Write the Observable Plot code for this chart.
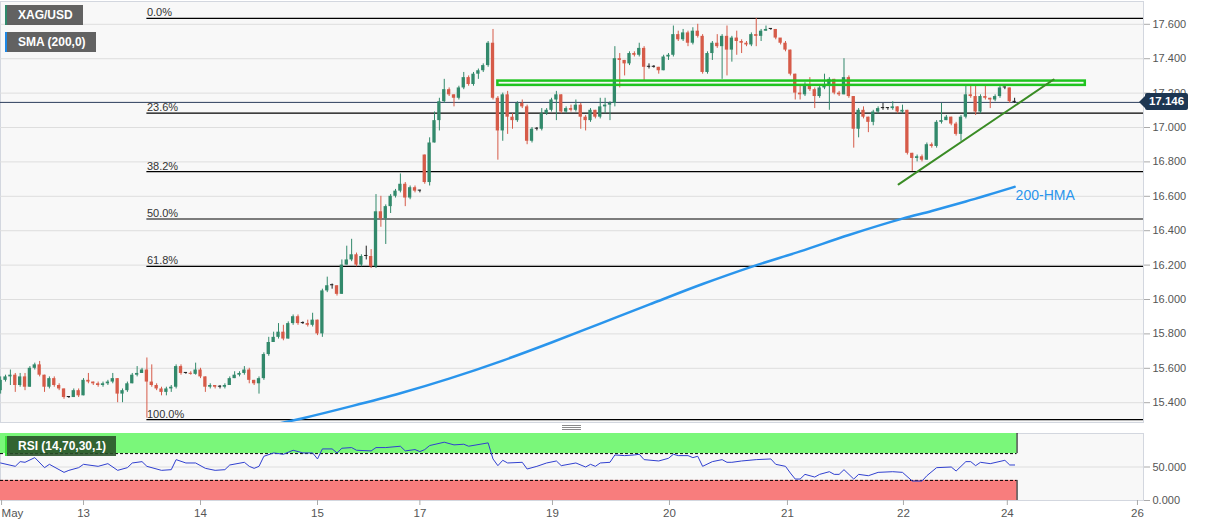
<!DOCTYPE html>
<html>
<head>
<meta charset="utf-8">
<script src="https://cdn.jsdelivr.net/npm/d3@7"></script>
<script src="https://cdn.jsdelivr.net/npm/@observablehq/plot@0.6"></script>
<style>
  html, body { margin: 0; padding: 0; background: #fff; }
  #wrap { position: relative; width: 1207px; height: 526px; overflow: hidden; font-family: "Liberation Sans", Arial, sans-serif; }
  .layer { position: absolute; left: 0; }
  .tag { position: absolute; background: rgba(85,85,85,0.92); color: #fff; font-weight: bold; font-size: 12px; line-height: 20px; height: 20px; padding: 0 10px 0 11px; box-sizing: border-box; white-space: nowrap; }
  .handle { position: absolute; left: 562px; width: 19px; height: 1px; background: #8a8a8a; }
  #price { position: absolute; left: 1145px; width: 43px; height: 17px; background: #1d3652; color: #fff; font-weight: bold; font-size: 11.5px; line-height: 17px; text-align: center; border-radius: 2px; }
  #price:before { content: ""; position: absolute; left: -6px; top: 2.5px; border-top: 6px solid transparent; border-bottom: 6px solid transparent; border-right: 6px solid #1d3652; }
</style>
</head>
<body>
<div id="wrap"></div>
<script>
// ---------- data (hourly candles, index 0 = 13 May 00:00) ----------
const startIdx = -17;
const firstOpen = 15.47;
const sessionOpens = {70: 16.84}; // weekend gap open

const closes = [
  15.53,15.55,15.56,15.50,15.55,15.49,15.60,15.62,15.56,15.49,
  15.54,15.50,15.48,15.43,15.43,15.47,15.44,15.53,15.52,15.51,
  15.50,15.51,15.52,15.54,15.45,15.47,15.51,15.56,15.57,15.59,
  15.52,15.50,15.48,15.46,15.48,15.49,15.61,15.57,15.57,15.565,
  15.59,15.55,15.49,15.50,15.49,15.49,15.50,15.54,15.56,15.57,
  15.59,15.53,15.51,15.54,15.68,15.75,15.78,15.81,15.77,15.86,
  15.90,15.86,15.86,15.85,15.88,15.80,16.05,16.08,16.08,16.03,
  16.20,16.23,16.26,16.20,16.25,16.25,16.19,16.51,16.47,16.54,
  16.60,16.63,16.67,16.59,16.65,16.63,16.63,16.68,16.91,17.04,
  17.15,17.22,17.19,17.17,17.23,17.29,17.25,17.31,17.33,17.36,
  17.49,17.17,16.98,17.19,17.06,17.04,17.14,17.12,16.92,16.99,
  16.99,17.08,17.10,17.16,17.19,17.09,17.11,17.10,17.13,17.06,
  17.04,17.10,17.06,17.12,17.13,17.14,17.40,17.39,17.37,17.43,
  17.42,17.46,17.35,17.35,17.35,17.33,17.41,17.42,17.54,17.51,
  17.55,17.49,17.56,17.53,17.32,17.43,17.49,17.47,17.53,17.45,
  17.52,17.50,17.49,17.48,17.54,17.53,17.56,17.57,17.57,17.52,
  17.49,17.45,17.31,17.20,17.19,17.25,17.22,17.18,17.23,17.24,
  17.28,17.20,17.19,17.29,17.18,16.99,17.10,17.06,17.03,17.09,
  17.11,17.11,17.11,17.12,17.09,17.10,16.85,16.82,16.83,16.81,
  16.90,16.89,17.03,17.04,17.06,17.02,16.96,17.06,17.19,17.18,
  17.09,17.18,17.17,17.16,17.18,17.23,17.23,17.15,17.146
];
const highs = [
  15.55,15.56,15.59,15.57,15.57,15.57,15.61,15.63,15.64,15.56,
  15.55,15.55,15.51,15.48,15.435,15.48,15.48,15.54,15.57,15.52,
  15.52,15.52,15.53,15.57,15.54,15.48,15.52,15.57,15.61,15.60,
  15.66,15.62,15.51,15.49,15.49,15.50,15.62,15.62,15.575,15.58,
  15.63,15.60,15.55,15.51,15.50,15.50,15.51,15.55,15.58,15.58,
  15.61,15.60,15.53,15.55,15.69,15.78,15.81,15.86,15.85,15.87,
  15.91,15.91,15.87,15.88,15.92,15.88,16.06,16.13,16.09,16.08,
  16.23,16.31,16.35,16.27,16.26,16.31,16.29,16.61,16.60,16.55,
  16.61,16.64,16.73,16.68,16.66,16.66,16.635,16.84,16.94,17.09,
  17.17,17.28,17.23,17.19,17.24,17.32,17.30,17.32,17.34,17.37,
  17.50,17.57,17.18,17.20,17.21,17.08,17.15,17.16,17.13,17.00,
  17.00,17.11,17.11,17.17,17.21,17.19,17.12,17.13,17.16,17.14,
  17.07,17.11,17.10,17.17,17.17,17.15,17.47,17.43,17.39,17.44,
  17.44,17.49,17.47,17.37,17.36,17.35,17.42,17.43,17.59,17.56,
  17.57,17.56,17.58,17.60,17.54,17.44,17.50,17.54,17.54,17.59,
  17.53,17.56,17.51,17.50,17.55,17.634,17.57,17.59,17.575,17.57,
  17.51,17.50,17.45,17.31,17.24,17.26,17.29,17.23,17.24,17.31,
  17.29,17.28,17.21,17.40,17.30,17.18,17.11,17.12,17.06,17.10,
  17.12,17.14,17.115,17.15,17.12,17.13,17.10,16.85,16.84,16.84,
  16.91,16.91,17.04,17.14,17.07,17.06,17.03,17.07,17.24,17.25,
  17.24,17.19,17.24,17.17,17.19,17.24,17.235,17.23,17.17
];
const lows = [
  15.45,15.52,15.50,15.46,15.49,15.47,15.49,15.59,15.55,15.46,
  15.48,15.49,15.47,15.42,15.425,15.43,15.43,15.44,15.51,15.50,
  15.49,15.49,15.50,15.51,15.40,15.40,15.46,15.51,15.55,15.57,
  15.31,15.49,15.47,15.44,15.44,15.46,15.48,15.56,15.565,15.56,
  15.56,15.54,15.46,15.48,15.48,15.48,15.48,15.50,15.54,15.55,
  15.56,15.51,15.50,15.45,15.53,15.67,15.75,15.77,15.76,15.77,
  15.85,15.85,15.855,15.84,15.84,15.79,15.78,16.04,16.06,16.02,
  16.03,16.20,16.22,16.19,16.19,16.23,16.18,16.18,16.42,16.32,
  16.50,16.59,16.62,16.54,16.58,16.62,16.62,16.67,16.66,16.91,
  16.98,17.14,17.18,17.12,17.16,17.22,17.24,17.24,17.28,17.32,
  17.35,17.16,16.81,16.92,16.96,16.99,17.03,17.11,16.90,16.91,
  16.98,16.98,17.07,17.09,17.04,17.08,17.08,17.09,17.09,16.99,
  16.98,17.03,17.05,17.05,17.08,17.04,17.12,17.23,17.30,17.36,
  17.41,17.41,17.27,17.34,17.345,17.31,17.33,17.39,17.41,17.50,
  17.50,17.47,17.48,17.52,17.31,17.31,17.39,17.46,17.28,17.30,
  17.38,17.42,17.43,17.47,17.47,17.47,17.50,17.56,17.565,17.51,
  17.48,17.44,17.30,17.16,17.16,17.18,17.21,17.11,17.17,17.22,
  17.10,17.19,17.18,17.19,17.17,16.88,16.94,17.05,16.97,17.01,
  17.08,17.10,17.10,17.10,17.08,17.08,16.84,16.745,16.80,16.80,
  16.81,16.88,16.88,17.02,17.04,17.01,16.95,16.92,17.05,17.17,
  17.07,17.08,17.16,17.11,17.15,17.17,17.22,17.14,17.14
];

// 200-period moving average, sampled [candle index, value]
const sma = [
  [37,15.26],[45,15.31],[55,15.38],[65,15.455],[75,15.54],[86,15.645],[96,15.75],
  [106,15.86],[116,15.97],[127,16.09],[137,16.19],[147,16.28],[157,16.375],
  [168,16.47],[174,16.515],[181,16.57],[191,16.655]
];

// RSI(14) sampled [candle index, value]
const rsi = [
  [-17,56],[-14,51],[-13,58],[-12,57],[-10,64],[-8,49],[-7,54],[-4,42],[-3,45],[-1,49],
  [0,54],[3,51],[5,55],[7,45],[9,49],[10,56],[12,58],[13,51],[16,45],[18,46],[19,61],
  [21,56],[23,56],[25,48],[27,45],[29,46],[30,53],[33,57],[34,51],[35,48],[36,51],
  [37,66],[39,71],[41,69],[43,75],[45,71],[47,71],[48,62],[49,77],[51,77],[52,71],
  [53,78],[55,79],[56,75],[59,74],[60,79],[62,79],[65,81],[66,74],[68,76],[69,73],
  [70,76],[71,82],[74,87],[76,83],[78,84],[79,81],[83,86],[84,62],[85,52],[86,60],
  [87,56],[90,57],[91,47],[93,51],[95,56],[97,59],[98,52],[101,56],[103,50],[104,54],
  [105,51],[106,56],[108,57],[109,68],[111,67],[113,68],[114,69],[115,61],[118,59],
  [120,63],[121,69],[122,67],[124,67],[125,64],[126,66],[127,51],[129,58],[131,61],
  [132,57],[133,57],[135,59],[138,61],[141,62],[142,54],[144,51],[145,41],[146,32],
  [147,32],[148,39],[150,35],[151,39],[153,43],[154,39],[155,39],[156,46],[158,32],
  [159,39],[161,37],[163,42],[166,43],[168,42],[170,29],[172,29],[173,37],[175,49],
  [178,50],[179,44],[181,58],[182,58],[183,52],[184,57],[186,55],[189,60],[190,53],[191,53]
];

// Fibonacci retracement (13 May low 15.302 -> 20 May high 17.634)
const fibLabels = ["0.0%","23.6%","38.2%","50.0%","61.8%","100.0%"];
const fibValues = [17.634, 17.084, 16.743, 16.468, 16.193, 15.302];
const fibStart = 13;

// resistance zone and support trendline
const zone = {from: 85, to: 205.5, low: 17.245, high: 17.27};
const trend = [{i: 167.2, v: 16.669}, {i: 199, v: 17.279}];

// axes
const yTicks = [15.4,15.6,15.8,16.0,16.2,16.4,16.6,16.8,17.0,17.2,17.4,17.6];
const xTickIdx = [-16.4, 0, 24, 48, 69, 96.2, 120.2, 144.4, 168.2, 189.5, 216.2];
const xTickLabels = ["May","13","14","15","17","19","20","21","22","24","26"];

// ---------- build ----------
const FONT = '"Liberation Sans", Arial, sans-serif';
const GREEN = "#32896b", RED = "#d65b49", DOJI = "#222";
const xDomain = [-17.03, 217.44];

const candles = closes.map((c, k) => {
  const i = startIdx + k;
  const o = k === 0 ? firstOpen : (sessionOpens[i] ?? closes[k - 1]);
  return {i, o, h: highs[k], l: lows[k], c};
});
const lastIdx = candles[candles.length - 1].i;
const lastClose = closes[closes.length - 1];
const candleColor = d => Math.abs(d.c - d.o) < 0.004 ? DOJI : (d.c > d.o ? GREEN : RED);
const fibs = fibValues.map((v, k) => ({v, label: fibLabels[k]}));
const tickLabelOf = new Map(xTickIdx.map((t, k) => [t, xTickLabels[k]]));

const main = Plot.plot({
  width: 1207, height: 425,
  marginLeft: 0, marginRight: 64, marginTop: 1, marginBottom: 3,
  x: {domain: xDomain, axis: null},
  y: {domain: [15.2849, 17.7326]},
  color: {type: "identity"},
  style: {background: "transparent", color: "#555", fontFamily: FONT, overflow: "visible"},
  marks: [
    Plot.frame({fill: "#f8f8f8", stroke: "#d3d7df"}),
    Plot.gridY(yTicks, {stroke: "#dedede", strokeOpacity: 1}),
    Plot.axisY(yTicks, {anchor: "right", tickFormat: d3.format(".3f"), tickSize: 6, tickPadding: 3, fontSize: 11, stroke: "#aaa", fill: "#555"}),
    Plot.ruleY(fibs, {y: "v", x1: fibStart, x2: xDomain[1], stroke: "#000", strokeWidth: 1.2}),
    Plot.text(fibs, {x: fibStart, y: "v", text: "label", textAnchor: "start", lineAnchor: "bottom", dy: -2, fontSize: 11, fill: "#333"}),
    Plot.ruleY([lastClose], {stroke: "#2c3e5c", strokeWidth: 1}),
    Plot.line(sma, {x: d => d[0], y: d => d[1], curve: "monotone-x", stroke: "#2a95ec", strokeWidth: 2.5, clip: true}),
    Plot.ruleX(candles, {x: "i", y1: "l", y2: "h", stroke: candleColor, strokeWidth: 1}),
    Plot.rect(candles, {
      x1: d => d.i - 0.34, x2: d => d.i + 0.34,
      y1: d => Math.min(d.o, d.c),
      y2: d => Math.max(d.o, d.c, Math.min(d.o, d.c) + 0.006),
      fill: candleColor
    }),
    Plot.rect([zone], {x1: "from", x2: "to", y1: "low", y2: "high", fill: "none", stroke: "#1fc41f", strokeWidth: 2.5}),
    Plot.line(trend, {x: "i", y: "v", stroke: "#3a8c25", strokeWidth: 2}),
    Plot.text([sma[sma.length - 1]], {x: d => d[0], y: d => d[1], text: () => "200-HMA", textAnchor: "start", dx: 1, dy: 9, fontSize: 14, fill: "#2a95ec"})
  ]
});

const rsiPlot = Plot.plot({
  width: 1207, height: 101,
  marginLeft: 0, marginRight: 64, marginTop: 8, marginBottom: 26,
  x: {domain: xDomain},
  y: {domain: [0, 100]},
  style: {background: "transparent", color: "#555", fontFamily: FONT, overflow: "visible"},
  marks: [
    Plot.frame({fill: "#f8f8f8", stroke: "#d3d7df"}),
    Plot.gridY([50], {stroke: "#dedede", strokeOpacity: 1}),
    Plot.rect([{a: 70, b: 100}], {x1: xDomain[0], x2: lastIdx + 0.5, y1: "a", y2: "b", fill: "#7af77a"}),
    Plot.rect([{a: 0, b: 30}], {x1: xDomain[0], x2: lastIdx + 0.5, y1: "a", y2: "b", fill: "#f87d7d"}),
    Plot.ruleY([70, 30], {x1: xDomain[0], x2: lastIdx + 0.5, stroke: "#000", strokeDasharray: "3,2"}),
    Plot.ruleX([lastIdx + 0.5], {y1: 70, y2: 100, stroke: "#000"}),
    Plot.ruleX([lastIdx + 0.5], {y1: 0, y2: 30, stroke: "#000"}),
    Plot.line(rsi, {x: d => d[0], y: d => d[1], stroke: "#3040d0", strokeWidth: 1}),
    Plot.axisY([0, 50], {anchor: "right", tickFormat: d3.format(".3f"), tickSize: 6, tickPadding: 3, fontSize: 11, stroke: "#aaa", fill: "#555"}),
    Plot.axisX(xTickIdx.slice(1), {anchor: "bottom", tickFormat: d => tickLabelOf.get(d), tickSize: 5, tickPadding: 3, fontSize: 11.5, stroke: "#aaa", fill: "#555"}),
    Plot.axisX(xTickIdx.slice(0, 1), {anchor: "bottom", tickFormat: d => tickLabelOf.get(d), tickSize: 5, tickPadding: 3, fontSize: 11.5, textAnchor: "start", dx: -2, stroke: "#aaa", fill: "#555"})
  ]
});

const wrap = document.getElementById("wrap");
const l1 = document.createElement("div"); l1.className = "layer"; l1.style.top = "0px"; l1.appendChild(main); wrap.appendChild(l1);
const l2 = document.createElement("div"); l2.className = "layer"; l2.style.top = "425px"; l2.appendChild(rsiPlot); wrap.appendChild(l2);

function tag(text, left, top, accent, bg) {
  const t = document.createElement("div");
  t.className = "tag"; t.textContent = text;
  t.style.left = left + "px"; t.style.top = top + "px";
  t.style.borderLeft = "2px solid " + accent;
  if (bg) t.style.background = bg;
  wrap.appendChild(t);
}
tag("XAG/USD", 5, 5, "#2f8a6c");
tag("SMA (200,0)", 5, 32, "#1e88e5");
tag("RSI (14,70,30,1)", 5, 436, "#3de03d", "rgba(40,80,40,0.88)");

[424.5, 426.5, 428.5].forEach(y => {
  const h = document.createElement("div"); h.className = "handle"; h.style.top = y + "px"; wrap.appendChild(h);
});

const py = main.scale("y").apply(lastClose);
const price = document.createElement("div");
price.id = "price"; price.textContent = d3.format(".3f")(lastClose);
price.style.top = (py - 8.5) + "px";
wrap.appendChild(price);
</script>
</body>
</html>
